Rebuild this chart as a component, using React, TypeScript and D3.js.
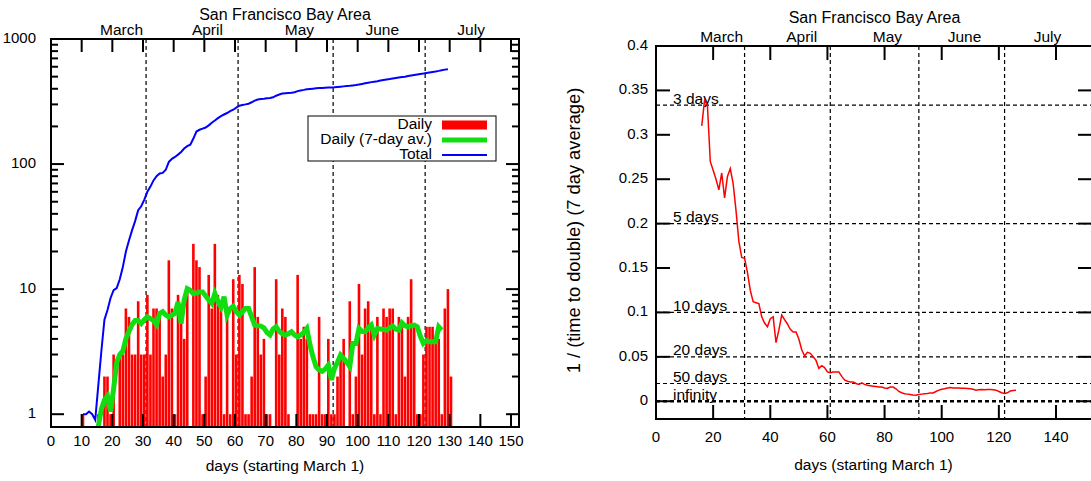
import React from 'react';
import * as d3 from 'd3';

// ---------- data ----------
const dailyStartDay = 10;
const dailyCases = [
  1, 0, 0, 0, 0, 1, 0, 2, 2, 1,
  3, 0, 3, 3, 7, 6, 3, 3, 8, 3,
  3, 9, 3, 7, 7, 6, 2, 3, 17, 7,
  1, 9, 6, 4, 10, 0, 23, 17, 15, 1,
  2, 13, 7, 23, 9, 7, 1, 6, 1, 12,
  3, 13, 11, 1, 1, 2, 15, 6, 3, 4,
  1, 1, 0, 12, 3, 7, 6, 1, 0, 0,
  13, 4, 5, 4, 1, 1, 1, 6, 1, 1,
  4, 1, 1, 2, 3, 4, 0, 8, 1, 2,
  11, 3, 7, 8, 5, 1, 6, 1, 7, 6,
  7, 7, 1, 6, 5, 2, 6, 12, 5, 1,
  1, 3, 5, 5, 5, 4, 4, 1, 7, 10,
  2,
];

const avgStartDay = 15;
const dailyAvg7 = [
  0.8, 1.1, 1.3, 1.4, 1.05, 1.6, 2.6, 3.0, 3.2, 4.0,
  4.6, 5.2, 5.6, 5.6, 5.3, 5.7, 6.0, 5.8, 5.6, 5.2,
  6.4, 6.6, 6.2, 6.0, 6.2, 6.4, 7.9, 5.3, 8.2, 10.1,
  9.8, 9.2, 9.3, 9.5, 9.5, 8.8, 8.2, 7.7, 9.2, 8.0,
  7.2, 8.7, 6.2, 7.0, 7.3, 6.6, 6.2, 6.6, 7.0, 7.0,
  6.0, 5.16, 5.1, 5.06, 4.9, 4.5, 4.3, 4.8, 5.0, 4.6,
  4.4, 4.3, 4.4, 4.56, 4.3, 4.16, 4.3, 4.5, 4.85, 3.6,
  2.88, 2.4, 2.26, 2.2, 2.3, 2.47, 1.88, 2.33, 2.6, 2.97,
  2.8, 2.6, 2.4, 3.68, 3.68, 4.85, 4.6, 4.56, 4.9, 5.16,
  4.3, 4.85, 4.8, 4.75, 4.7, 4.9, 5.06, 4.8, 4.7, 5.38,
  5.1, 5.0, 5.1, 5.16, 5.0, 4.2, 3.68, 3.87, 3.8, 3.8,
  3.8, 5.0, 4.7,
];

const totalStartDay = 10;
const totalCases = [
  1, 1, 1.05, 1.0, 0.9, 1.7, 3.2, 5.7, 6.8, 8.5,
  9.8, 10.2, 12, 15, 20, 24.5, 29.5, 35, 42.8, 46,
  52, 60, 66, 74, 80, 84, 85, 90, 104, 110,
  114, 119, 125, 133, 139, 143, 160, 182, 188, 192,
  196, 204, 214, 223, 233, 242, 249, 256, 265, 272,
  283, 293, 297, 300, 304, 312, 322, 328, 331, 333,
  336, 338, 342, 352, 360, 366, 369, 370, 371, 375,
  383, 388, 392, 397, 399, 401, 403, 405, 406, 408,
  409, 410, 411, 414, 416, 418, 420, 422, 425, 428,
  432, 437, 442, 447, 452, 456, 460, 465, 470, 474,
  478, 483, 488, 492, 496, 500, 506, 511, 516, 521,
  526, 530, 535, 540, 545, 550, 556, 563, 569, 574,
];

const rateStartDay = 16;
const doublingRate = [
  0.31, 0.339, 0.333, 0.27, 0.26, 0.25, 0.238, 0.257, 0.229, 0.253,
  0.262, 0.245, 0.215, 0.18, 0.162, 0.161, 0.145, 0.125, 0.112, 0.111,
  0.11, 0.095, 0.088, 0.084, 0.093, 0.095, 0.066, 0.08, 0.097, 0.092,
  0.087, 0.081, 0.078, 0.078, 0.07, 0.058, 0.051, 0.055, 0.054, 0.05,
  0.046, 0.037, 0.04, 0.038, 0.033, 0.032, 0.033, 0.033, 0.033, 0.028,
  0.024, 0.0225, 0.0217, 0.0217, 0.02, 0.0188, 0.0206, 0.019, 0.018, 0.0175,
  0.017, 0.0165, 0.016, 0.016, 0.015, 0.0145, 0.016, 0.016, 0.014, 0.011,
  0.0095, 0.0085, 0.008, 0.0075, 0.007, 0.0068, 0.0075, 0.008, 0.0085, 0.0087,
  0.0094, 0.0094, 0.011, 0.0125, 0.0135, 0.014, 0.015, 0.0154, 0.015, 0.015,
  0.0148, 0.0145, 0.0145, 0.0143, 0.014, 0.0135, 0.0124, 0.013, 0.0132, 0.013,
  0.0132, 0.0132, 0.013, 0.0125, 0.011, 0.0095, 0.0087, 0.0095, 0.0116, 0.012,
  0.0124,
];

const monthNames = ['March', 'April', 'May', 'June', 'July'];
const monthLabelDays = [23, 51, 81, 108, 137];
const monthStartDays = [31, 61, 92, 122];

const leftXTicks = [0, 10, 20, 30, 40, 50, 60, 70, 80, 90, 100, 110, 120, 130, 140, 150];
const leftYTicks = [1, 10, 100, 1000];
const leftYMinor = [2, 3, 4, 5, 6, 7, 8, 9, 20, 30, 40, 50, 60, 70, 80, 90, 200, 300, 400, 500, 600, 700, 800, 900];
const rightXTicks = [0, 20, 40, 60, 80, 100, 120, 140];
const rightYTicks = [0, 0.05, 0.1, 0.15, 0.2, 0.25, 0.3, 0.35, 0.4];
const refRates = [1 / 3, 0.2, 0.1, 0.05, 0.02, 0];
const refLabels = ['3 days', '5 days', '10 days', '20 days', '50 days', 'infinity'];

const legendNames = ['Daily', 'Daily (7-day av.)', 'Total'];
const legendColors = ['#ff0000', '#11dd11', '#0000ff'];
const legendWidths = [9, 5, 2];

const FONT = "'Liberation Sans', Arial, Helvetica, sans-serif";
const FS = 15.5;
const TICKFS = 15;

export default function App() {
  // ---------- left chart ----------
  const L = { left: 51, right: 519, top: 39, bottom: 427 };
  const xL = d3.scaleLinear().domain([0, 152.6]).range([L.left, L.right]);
  const yL = d3.scaleLog().domain([0.79, 1000]).range([L.bottom, L.top]);

  const avgLine = d3
    .line<number>()
    .x((_, i) => xL(avgStartDay + i) + 1.3)
    .y((v) => yL(Math.max(v, 0.5)));
  const totLine = d3
    .line<number>()
    .x((_, i) => xL(totalStartDay + i) + 1.3)
    .y((v) => yL(v));

  // ---------- right chart ----------
  const R = { left: 656, right: 1092, top: 46, bottom: 419 };
  const xR = d3.scaleLinear().domain([0, 152.6]).range([R.left, R.right]);
  const yR = d3.scaleLinear().domain([-0.02, 0.4]).range([R.bottom, R.top]);
  const rateLine = d3
    .line<number>()
    .x((_, i) => xR(rateStartDay + i))
    .y((v) => yR(v));

  const fmt = (v: number) => String(+v.toFixed(2));
  const TL = 13;

  return (
    <svg
      width={1091}
      height={481}
      style={{ position: 'absolute', left: 0, top: 0, background: '#fff' }}
      fontFamily={FONT}
      fontSize={FS}
    >
      <defs>
        <clipPath id="clipL">
          <rect x={L.left} y={L.top} width={L.right - L.left} height={L.bottom - L.top} />
        </clipPath>
        <clipPath id="clipR">
          <rect x={R.left} y={R.top} width={R.right - R.left} height={R.bottom - R.top} />
        </clipPath>
      </defs>
      <rect x={0} y={0} width={1091} height={481} fill="#fff" />

      {/* ================= LEFT ================= */}
      <text x={(L.left + L.right) / 2} y={16} textAnchor="middle" dominantBaseline="middle" fontSize={16}>
        San Francisco Bay Area
      </text>
      {monthNames.map((m, i) => (
        <text key={m} x={xL(monthLabelDays[i])} y={31} textAnchor="middle" dominantBaseline="middle">
          {m}
        </text>
      ))}

      {/* month lines */}
      {monthStartDays.map((d) => (
        <line key={d} x1={xL(d)} x2={xL(d)} y1={L.top} y2={L.bottom} stroke="#000" strokeWidth={1.2} strokeDasharray="4,3" />
      ))}

      <g clipPath="url(#clipL)">
        {dailyCases.map((v, i) =>
          v > 0 ? (
            <rect
              key={i}
              x={xL(dailyStartDay + i)}
              y={yL(v)}
              width={2.6}
              height={L.bottom - yL(v)}
              fill="#ff0000"
            />
          ) : null
        )}
        <path d={avgLine(dailyAvg7) || ''} fill="none" stroke="#11dd11" strokeWidth={5} strokeLinejoin="miter" />
        <path d={totLine(totalCases) || ''} fill="none" stroke="#0000ff" strokeWidth={2} />
      </g>

      {/* legend */}
      <rect x={308} y={116} width={188} height={45} fill="#fff" stroke="#000" strokeWidth={1} />
      {legendNames.map((n, i) => (
        <g key={n}>
          <text x={432} y={125 + i * 15} textAnchor="end" dominantBaseline="middle">
            {n}
          </text>
          <line x1={442} x2={487} y1={125 + i * 15} y2={125 + i * 15} stroke={legendColors[i]} strokeWidth={legendWidths[i]} />
        </g>
      ))}

      {/* x ticks */}
      {leftXTicks.map((t) => (
        <g key={t}>
          <line x1={xL(t)} x2={xL(t)} y1={L.bottom} y2={L.bottom - TL} stroke="#000" strokeWidth={2} />
          <line x1={xL(t)} x2={xL(t)} y1={L.top} y2={L.top + TL} stroke="#000" strokeWidth={2} />
          <text x={xL(t)} y={442} textAnchor="middle" dominantBaseline="middle" fontSize={TICKFS}>
            {t}
          </text>
        </g>
      ))}
      {/* y ticks */}
      {leftYTicks.map((t) => (
        <g key={t}>
          <line x1={L.left} x2={L.left + TL} y1={yL(t)} y2={yL(t)} stroke="#000" strokeWidth={2} />
          <line x1={L.right} x2={L.right - TL} y1={yL(t)} y2={yL(t)} stroke="#000" strokeWidth={2} />
          <text x={36} y={yL(t)} textAnchor="end" dominantBaseline="middle" fontSize={TICKFS}>
            {t}
          </text>
        </g>
      ))}
      {leftYMinor.map((t) => (
        <g key={t}>
          <line x1={L.left} x2={L.left + 7} y1={yL(t)} y2={yL(t)} stroke="#000" strokeWidth={2} />
          <line x1={L.right} x2={L.right - 7} y1={yL(t)} y2={yL(t)} stroke="#000" strokeWidth={2} />
        </g>
      ))}
      <rect x={L.left} y={L.top} width={L.right - L.left} height={L.bottom - L.top} fill="none" stroke="#000" strokeWidth={2} />
      <text x={(L.left + L.right) / 2} y={467} textAnchor="middle" dominantBaseline="middle">
        days (starting March 1)
      </text>

      {/* ================= RIGHT ================= */}
      <text x={(R.left + 1091) / 2 + 1} y={19} textAnchor="middle" dominantBaseline="middle" fontSize={16}>
        San Francisco Bay Area
      </text>
      {monthNames.map((m, i) => (
        <text key={m} x={xR(monthLabelDays[i])} y={38} textAnchor="middle" dominantBaseline="middle">
          {m}
        </text>
      ))}

      {monthStartDays.map((d) => (
        <line key={d} x1={xR(d)} x2={xR(d)} y1={R.top} y2={R.bottom} stroke="#000" strokeWidth={1.2} strokeDasharray="4,3" />
      ))}
      {refRates.map((r, i) => (
        <g key={refLabels[i]}>
          <line
            x1={R.left}
            x2={R.right}
            y1={yR(r)}
            y2={yR(r)}
            stroke="#000"
            strokeWidth={r === 0 ? 2.6 : 1.2}
            strokeDasharray="4,3"
          />
          <text x={673} y={yR(r) - 1.5} fontSize={15.5}>
            {refLabels[i]}
          </text>
        </g>
      ))}

      <g clipPath="url(#clipR)">
        <path d={rateLine(doublingRate) || ''} fill="none" stroke="#ff0000" strokeWidth={1.5} />
      </g>

      {rightXTicks.map((t) => (
        <g key={t}>
          <line x1={xR(t)} x2={xR(t)} y1={R.bottom} y2={R.bottom - 14} stroke="#000" strokeWidth={2} />
          <line x1={xR(t)} x2={xR(t)} y1={R.top} y2={R.top + 14} stroke="#000" strokeWidth={2} />
          <text x={xR(t)} y={438} textAnchor="middle" dominantBaseline="middle" fontSize={TICKFS}>
            {t}
          </text>
        </g>
      ))}
      {rightYTicks.map((t) => (
        <g key={t}>
          <line x1={R.left} x2={R.left + 14} y1={yR(t)} y2={yR(t)} stroke="#000" strokeWidth={2} />
          <line x1={R.right} x2={R.right - 14} y1={yR(t)} y2={yR(t)} stroke="#000" strokeWidth={2} />
          <text x={648} y={yR(t)} textAnchor="end" dominantBaseline="middle" fontSize={TICKFS}>
            {fmt(t)}
          </text>
        </g>
      ))}
      <rect x={R.left} y={R.top} width={R.right - R.left} height={R.bottom - R.top} fill="none" stroke="#000" strokeWidth={2} />
      <text x={(R.left + 1091) / 2} y={466} textAnchor="middle" dominantBaseline="middle">
        days (starting March 1)
      </text>
      <text
        transform={`translate(575, ${(R.top + R.bottom) / 2 - 2}) rotate(-90)`}
        textAnchor="middle"
        dominantBaseline="middle"
        fontSize={18.3}
      >
        1 / (time to double) (7 day average)
      </text>
    </svg>
  );
}
